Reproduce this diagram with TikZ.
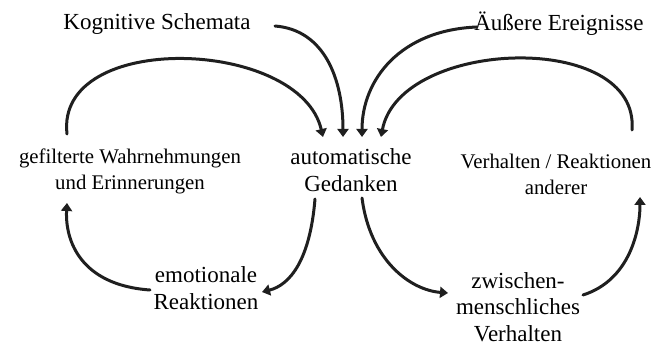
\documentclass[tikz,border=0pt]{standalone}
\usepackage{fontspec}
\setmainfont{Liberation Serif}
\usetikzlibrary{arrows.meta}
\begin{document}
\begin{tikzpicture}[x=1pt,y=-1pt,
  big/.style={font=\fontsize{23}{26.5}\selectfont,align=center,inner sep=0pt},
  small/.style={font=\fontsize{20.8}{26}\selectfont,align=center,inner sep=0pt},
  conn/.style={line width=3pt,draw=black!88,line cap=round,-{Triangle[length=8pt,width=11pt]}}]
\useasboundingbox (0,0) rectangle (666,347);
\node[big] (ks) at (157,24) {Kognitive Schemata};
\node[big] (ae) at (559,24) {Äußere Ereignisse};
\node[small] (gw) at (130,171) {gefilterte Wahrnehmungen\\und Erinnerungen};
\node[big] (ag) at (351,170) {automatische\\Gedanken};
\node[small] (vr) at (556,174) {Verhalten / Reaktionen\\anderer};
\node[big] (er) at (206,288) {emotionale\\Reaktionen};
\node[big] (zm) at (518,307) {zwischen-\\menschliches\\Verhalten};
\coordinate (k1) at (275,26);
\coordinate (t1) at (343,137);
\coordinate (g0) at (67,134);
\coordinate (t2) at (323,137);
\coordinate (e1) at (477,27);
\coordinate (t3) at (362,137);
\coordinate (v0) at (632,130);
\coordinate (t4) at (381,137);
\coordinate (a5) at (315,199);
\coordinate (t5) at (262,292);
\coordinate (r6) at (150,290);
\coordinate (t6) at (67,203);
\coordinate (a7) at (362,198);
\coordinate (t7) at (448,293);
\coordinate (z8) at (583,295);
\coordinate (t8) at (640,197);
\draw[conn] (k1) .. controls (325,30) and (343,80) .. (t1);
\draw[conn] (g0) .. controls (55,30) and (300,38) .. (t2);
\draw[conn] (e1) .. controls (400,30) and (362,80) .. (t3);
\draw[conn] (v0) .. controls (640,30) and (400,38) .. (t4);
\draw[conn] (a5) .. controls (310,260) and (290,285) .. (t5);
\draw[conn] (r6) .. controls (80,285) and (65,240) .. (t6);
\draw[conn] (a7) .. controls (370,260) and (410,290) .. (t7);
\draw[conn] (z8) .. controls (630,280) and (640,230) .. (t8);
\end{tikzpicture}
\end{document}
